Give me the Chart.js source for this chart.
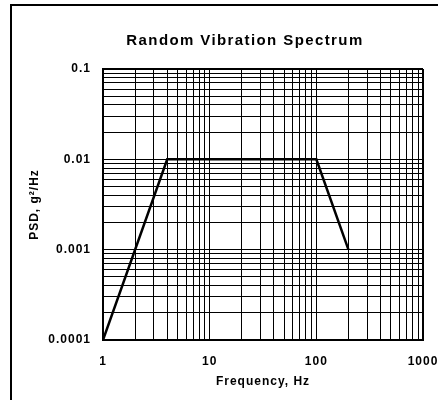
<!DOCTYPE html>
<html><head><meta charset="utf-8">
<script src="https://cdn.jsdelivr.net/npm/chart.js@4.4.0/dist/chart.umd.min.js"></script>
<style>html,body{margin:0;padding:0;background:#fff}canvas{display:block}</style>
</head><body>
<canvas id="c" width="438" height="400"></canvas>
<script>
const chartTitle = 'Random Vibration Spectrum';
const xAxisTitle = 'Frequency, Hz';
const yAxisTitle = 'PSD, g\u00B2/Hz';

const frequencies = [1, 4, 100, 200];
const psdValues = [0.0001, 0.01, 0.01, 0.001];

const xGridTicks = [1,2,3,4,5,6,7,8,9,10,20,30,40,50,60,70,80,90,100,200,300,400,500,600,700,800,900,1000];
const yGridTicks = [0.0001,0.0002,0.0003,0.0004,0.0005,0.0006,0.0007,0.0008,0.0009,
                    0.001,0.002,0.003,0.004,0.005,0.006,0.007,0.008,0.009,
                    0.01,0.02,0.03,0.04,0.05,0.06,0.07,0.08,0.09,0.1];
const xMajorValues = [1, 10, 100, 1000];
const xTickLabels = ['1', '10', '100', '1000'];
const yMajorValues = [0.0001, 0.001, 0.01, 0.1];
const yTickLabels = ['0.0001', '0.001', '0.01', '0.1'];

const FONT = '"Liberation Sans", Arial, sans-serif';

function labelFor(v, majors, labels) {
  const i = majors.findIndex(m => Math.abs(m - v) / m < 1e-6);
  return i >= 0 ? labels[i] : '';
}

const spacingPlugin = {
  id: 'spacing',
  beforeLayout(chart) { chart.ctx.letterSpacing = '1px'; },
  beforeDraw(chart) { chart.ctx.letterSpacing = '1px'; }
};

const framePlugin = {
  id: 'frame',
  afterDraw(chart) {
    const ctx = chart.ctx;
    ctx.save();
    ctx.strokeStyle = '#000';
    ctx.lineWidth = 2;
    ctx.strokeRect(11, 5, 600, 600);
    ctx.font = 'bold 15px ' + FONT;
    ctx.letterSpacing = '1.4px';
    ctx.fillStyle = '#000';
    ctx.textAlign = 'center';
    ctx.textBaseline = 'alphabetic';
    ctx.fillText(chartTitle, 245, 44.5);
    ctx.restore();
  }
};

new Chart(document.getElementById('c'), {
  type: 'scatter',
  data: {
    datasets: [{
      data: frequencies.map((f, i) => ({ x: f, y: psdValues[i] })),
      showLine: true,
      borderColor: '#000',
      backgroundColor: '#000',
      borderWidth: 2.5,
      pointRadius: 0,
      tension: 0
    }]
  },
  options: {
    responsive: false,
    animation: false,
    devicePixelRatio: 1,
    layout: { padding: { left: 0, right: 15, top: 69, bottom: 0 } },
    plugins: { legend: { display: false }, title: { display: false }, tooltip: { enabled: false } },
    scales: {
      x: {
        type: 'logarithmic', min: 1, max: 1000,
        afterBuildTicks: s => { s.ticks = xGridTicks.map(v => ({ value: v })); },
        afterFit: s => { s.height = 60; s.paddingLeft = 0; s.paddingRight = 0; },
        ticks: {
          autoSkip: false, maxRotation: 0, padding: 14, color: '#000',
          font: { family: FONT, size: 12, weight: 'bold' },
          callback: v => labelFor(v, xMajorValues, xTickLabels)
        },
        grid: { color: '#000', drawTicks: false, lineWidth: c => (c.index === xGridTicks.length - 1 ? 2 : 1) },
        border: { display: true, color: '#000', width: 2 },
        title: { display: true, text: xAxisTitle, color: '#000', font: { family: FONT, size: 12, weight: 'bold' }, padding: { top: 0, bottom: 11 } }
      },
      y: {
        type: 'logarithmic', min: 0.0001, max: 0.1,
        afterBuildTicks: s => { s.ticks = yGridTicks.map(v => ({ value: v })); },
        afterFit: s => { s.width = 103; s.paddingTop = 0; s.paddingBottom = 0; },
        ticks: {
          autoSkip: false, padding: 12, color: '#000',
          font: { family: FONT, size: 12, weight: 'bold' },
          callback: v => labelFor(v, yMajorValues, yTickLabels)
        },
        grid: { color: '#000', drawTicks: false, lineWidth: c => (c.index === yGridTicks.length - 1 ? 2 : 1) },
        border: { display: true, color: '#000', width: 2 },
        title: { display: true, text: yAxisTitle, color: '#000', font: { family: FONT, size: 12, weight: 'bold' }, padding: { top: 27, bottom: 0 } }
      }
    }
  },
  plugins: [spacingPlugin, framePlugin]
});
</script>
</body></html>
